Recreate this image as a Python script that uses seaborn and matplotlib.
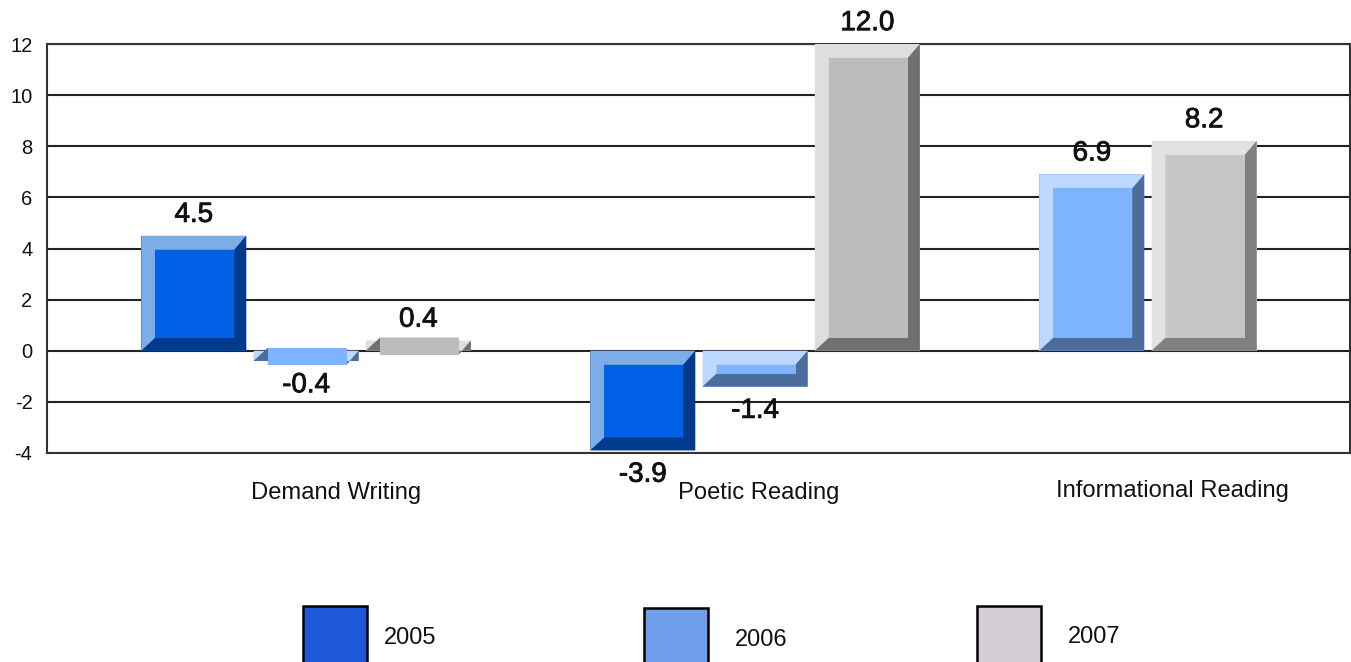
import numpy as np
import pandas as pd
import seaborn as sns
import matplotlib.pyplot as plt
from matplotlib.patches import Polygon, Rectangle
import matplotlib.patheffects as pe

categories = ['Demand Writing', 'Poetic Reading', 'Informational Reading']
years = ['2005', '2006', '2007']
values_2005 = [4.5, -3.9, np.nan]
values_2006 = [-0.4, -1.4, 6.9]
values_2007 = [0.4, 12.0, 8.2]

face = {'2005': '#0060e6', '2006': '#7db3ff', '2007': '#bcbcbc'}
light = {'2005': '#7dade9', '2006': '#bcd8ff', '2007': '#dedede'}
dark = {'2005': '#003a8c', '2006': '#4c6c9a', '2007': '#707070'}
# the 2007 bar in the last group is a bit paler
pale_2007 = ('#c6c6c6', '#e2e2e2', '#808080')
legend_colors = ['#1f57d9', '#6f9fec', '#d2ced4']

plt.rcParams['font.family'] = ['Liberation Sans', 'DejaVu Sans']
plt.rcParams['axes.unicode_minus'] = False

df = pd.DataFrame({
    'category': categories * 3,
    'year': [y for y in years for _ in categories],
    'value': values_2005 + values_2006 + values_2007,
}).dropna()

W, H = 1351, 662
fig = plt.figure(figsize=(W / 100, H / 100), dpi=100)
ax = fig.add_axes([47 / W, 1 - 453 / H, (1350 - 47) / W, (453 - 44) / H])

sns.barplot(data=df, x='category', y='value', hue='year', order=categories, hue_order=years,
            palette=face, width=0.75, gap=0.065, legend=False, ax=ax, zorder=3)

ax.set_xlim(-0.577, 2.325)
ax.set_ylim(-4, 12)
ax.set_yticks(np.arange(-4, 13, 2))
ax.set_xticks([])
ax.set_xlabel('')
ax.set_ylabel('')
ax.tick_params(axis='y', length=0, labelsize=14.5, pad=10.5, labelcolor='#111111')
ax.grid(axis='y', color='#222222', lw=1.5, zorder=0)
ax.set_axisbelow(True)
for side in ['top', 'right', 'left', 'bottom']:
    ax.spines[side].set_color('#333333')
    ax.spines[side].set_linewidth(1.5)

# pixel -> data scales for the bevels
px_x = 2.902 / (1350 - 47)
px_y = 16 / (453 - 44)
bl, br = 14 * px_x, 12 * px_x
bt, bb = 14 * px_y, 13 * px_y

for year, cont in zip(years, ax.containers):
    for bar in cont:
        val = bar.get_height()
        if np.isnan(val):
            continue
        c_face, c_light, c_dark = face[year], light[year], dark[year]
        # third group has no 2005 bar, the others slide left one slot
        if bar.get_x() > 1.5:
            bar.set_x(bar.get_x() - 0.25)
            if year == '2007':
                c_face, c_light, c_dark = pale_2007
        x0 = bar.get_x()
        x1 = x0 + bar.get_width()
        y0 = min(0, val)
        y1 = max(0, val)
        ix0, ix1 = x0 + bl, x1 - br
        iy0, iy1 = y0 + bb, y1 - bt
        polys = [
            ([(x0, y0), (x0, y1), (x1, y1), (ix1, iy1), (ix0, iy1), (ix0, iy0)], c_light),
            ([(x0, y0), (x1, y0), (x1, y1), (ix1, iy1), (ix1, iy0), (ix0, iy0)], c_dark),
            ([(ix0, iy0), (ix1, iy0), (ix1, iy1), (ix0, iy1)], c_face),
        ]
        for pts, col in polys:
            ax.add_patch(Polygon(pts, closed=True, fc=col, ec='none', zorder=4, clip_on=False))
        off = 15 if val > 0 else -17.5
        t = ax.annotate(f'{val:.1f}', ((x0 + x1) / 2, val), xytext=(0, off), textcoords='offset points',
                        ha='center', va='center', fontsize=20, color='#111111', zorder=6,
                        annotation_clip=False)
        t.set_path_effects([pe.withStroke(linewidth=0.6, foreground='#111111')])

# category names sit off-centre in the original
cat_pos = [(336, 493), (759, 493), (1172, 491)]
for name, (px, py) in zip(categories, cat_pos):
    fig.text(px / W, 1 - py / H, name, ha='center', va='center', fontsize=17.1, color='#111111')

leg_pos = [(303, 606, 384, 638), (644, 608, 735, 640), (977, 606, 1068, 637)]
for year, col, (bx, by, tx, ty) in zip(years, legend_colors, leg_pos):
    fig.add_artist(Rectangle((bx / W, 1 - (by + 70) / H), 64 / W, 70 / H, transform=fig.transFigure,
                             fc=col, ec='black', lw=1.8))
    fig.text(tx / W, 1 - ty / H, year, ha='left', va='center', fontsize=17, color='#111111')

fig.savefig('out.png', dpi=100)
